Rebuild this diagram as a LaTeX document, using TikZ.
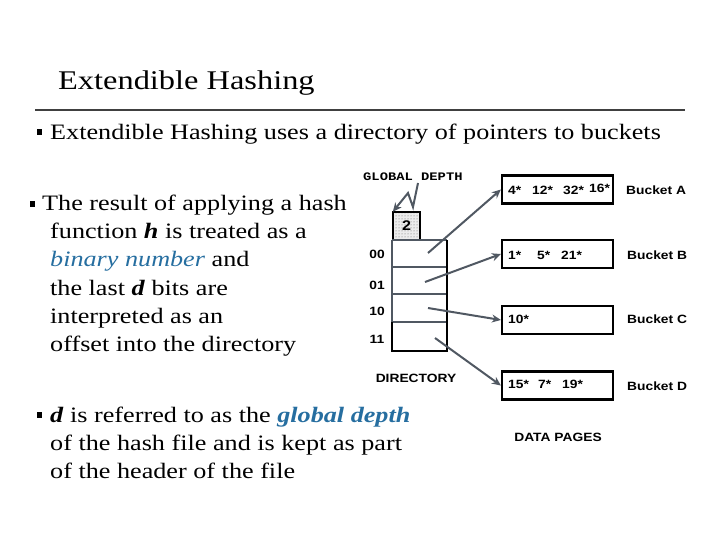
\documentclass[tikz,border=0pt]{standalone}
\usepackage{fontspec}
\setmainfont{Liberation Serif}[FakeStretch=1.19]
\newfontfamily\titlefont{Liberation Serif}[FakeStretch=1.2]
\newfontfamily\dsans{Liberation Sans}[FakeStretch=1.15]
\newfontfamily\dmono{Liberation Mono}[FakeStretch=1.2]
\usetikzlibrary{patterns,arrows.meta}
\definecolor{hblue}{RGB}{38,110,160}
\definecolor{lgray}{RGB}{80,88,98}
\tikzset{
  bucketbox/.style={draw=black, line width=2.2pt, minimum width=111pt, minimum height=28pt, inner sep=0pt},
  bucketlbl/.style={font=\dsans\bfseries\fontsize{12}{14}\selectfont, anchor=west, inner sep=0pt},
  bitlbl/.style={font=\dsans\bfseries\fontsize{12}{14}\selectfont, inner sep=0pt},
  entry/.style={font=\dsans\bfseries\fontsize{12}{14}\selectfont, anchor=west, inner sep=0pt},
  ptr/.style={draw=lgray, line width=2pt, -{Stealth[length=9pt,width=8pt]}},
  bul/.style={fill=black, minimum width=5.5pt, minimum height=6.5pt, inner sep=0pt},
  body/.style={font=\fontsize{22}{28.2}\selectfont, align=left, anchor=north west, inner sep=0pt},
  cell/.style={minimum width=55pt, inner sep=0pt}
}
\begin{document}
\begin{tikzpicture}[x=1pt,y=-1pt]
\useasboundingbox (0,0) rectangle (720,540);
% title
\node[font=\titlefont\fontsize{27}{30}\selectfont, anchor=west, inner sep=0pt] (title) at (58,83) {Extendible Hashing};
\draw[line width=2.5pt, draw=black!75] (35,110) -- (685,110);
% bullet 1
\node[bul] (b1) at (39.5,132) {};
\node[font=\fontsize{22}{26}\selectfont, anchor=west, inner sep=0pt] (t1) at (50,134) {Extendible Hashing uses a directory of pointers to buckets};
% bullet 2
\node[bul] (b2) at (32.5,204) {};
\node[body] (t2a) at (42,195) {The result of applying a hash};
\node[body] (t2) at (50,223) {function \textbf{\textit{h}} is treated as a\\
\textcolor{hblue}{\textit{binary number}} and\\
the last \textbf{\textit{d}} bits are\\
interpreted as an\\
offset into the directory};
% bullet 3
\node[bul] (b3) at (39.5,415) {};
\node[body] (t3) at (50,406.5) {\textbf{\textit{d}} is referred to as the \textcolor{hblue}{\textbf{\textit{global depth}}}\\
of the hash file and is kept as part\\
of the header of the file};
% global depth
\node[font=\dmono\bfseries\fontsize{11.5}{13}\selectfont, anchor=west, inner sep=0pt] (gd) at (363,177) {GLOBAL DEPTH};
\node[minimum width=27pt, minimum height=28pt, inner sep=0pt, fill=gray!15] (depth) at (406.5,226) {};
\fill[pattern=dots, pattern color=gray!80!black] (depth.south west) rectangle (depth.north east);
\draw[line width=2.2pt] (depth.south west) rectangle (depth.north east);
\node[font=\dsans\bfseries\fontsize{14}{16}\selectfont, inner sep=0pt] (two) at (depth.center) {2};
\coordinate (z0) at (418,183);
\coordinate (z1) at (413,207);
\coordinate (z2) at (408,193);
\draw[draw=lgray, line width=2pt, line join=miter, -{Stealth[length=9pt,width=8pt]}] (z0) -- (z1) -- (z2) -- (depth.north west);
% directory
\node[cell, minimum height=27pt] (d00) at (419.5,253.5) {};
\node[cell, minimum height=27pt] (d01) at (419.5,280.5) {};
\node[cell, minimum height=27pt] (d10) at (419.5,308) {};
\node[cell, minimum height=29pt] (d11) at (419.5,336.5) {};
\draw[draw=lgray, line width=2pt] (d00.north west) -- (d10.south west);
\draw[draw=lgray, line width=2pt] (d00.north west) -- (d00.north east);
\draw[draw=lgray, line width=2pt] (d00.south west) -- (d00.south east);
\draw[draw=lgray, line width=2pt] (d01.south west) -- (d01.south east);
\draw[draw=lgray, line width=2pt] (d10.south west) -- (d10.south east);
\draw[draw=black, line width=2.2pt] (d10.south west) -- (d11.south west) -- (d11.south east) -- (d00.north east);
\node[bitlbl] (l00) at (377,254) {00};
\node[bitlbl] (l01) at (377,285) {01};
\node[bitlbl] (l10) at (377,311) {10};
\node[bitlbl] (l11) at (377,339) {11};
\node[bitlbl] (dir) at (416,378) {DIRECTORY};
% buckets
\node[bucketbox] (bA) at (557.5,189.5) {};
\node[bucketbox] (bB) at (557.5,254) {};
\node[bucketbox] (bC) at (557.5,320) {};
\node[bucketbox] (bD) at (557.5,385.5) {};
\node[entry] at (508,190) {4*};
\node[entry] at (532,190) {12*};
\node[entry] at (563,190) {32*};
\node[entry] at (589,188.5) {16*};
\node[entry] at (508,255) {1*};
\node[entry] at (537,255) {5*};
\node[entry] at (561,255) {21*};
\node[entry] at (508,319) {10*};
\node[entry] at (508,384) {15*};
\node[entry] at (538,384) {7*};
\node[entry] at (562,384) {19*};
\node[bucketlbl] (lA) at (626,190) {Bucket A};
\node[bucketlbl] (lB) at (627,255) {Bucket B};
\node[bucketlbl] (lC) at (627,319) {Bucket C};
\node[bucketlbl] (lD) at (627,386) {Bucket D};
\node[bitlbl] (dp) at (558,437) {DATA PAGES};
% pointers
\coordinate (p0) at (428,253);
\coordinate (p1) at (425,282);
\coordinate (p2) at (428,308);
\coordinate (p3) at (435,338);
\draw[ptr] (p0) -- (bA.west);
\draw[ptr] (p1) -- (bB.west);
\draw[ptr] (p2) -- (bC.west);
\draw[ptr] (p3) -- (bD.west);
\end{tikzpicture}
\end{document}
